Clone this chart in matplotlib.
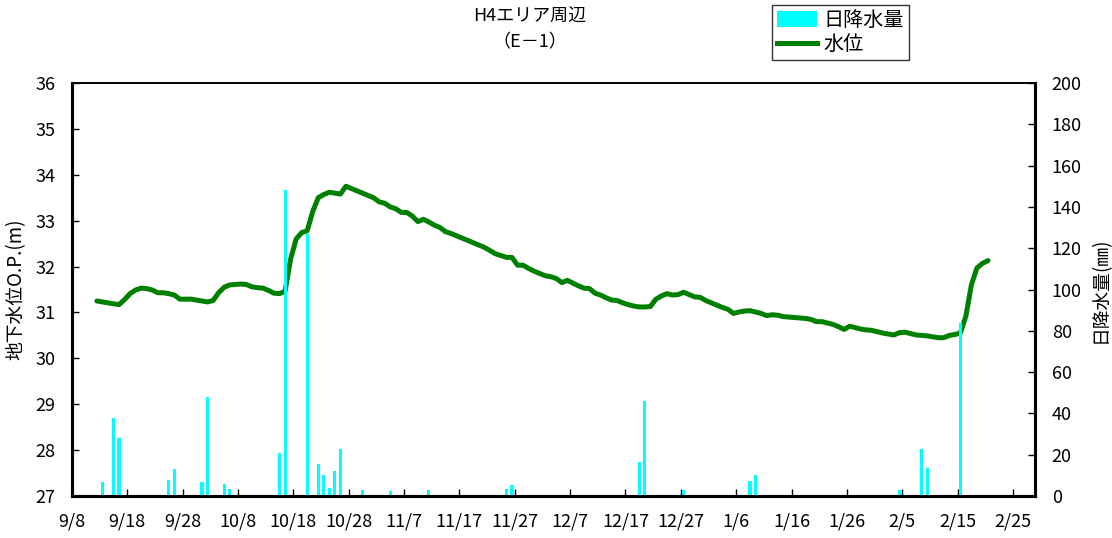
import numpy as np
import pandas as pd
import matplotlib
matplotlib.use("Agg")
import matplotlib.pyplot as plt
from matplotlib.patches import Patch
from matplotlib.lines import Line2D

plt.rcParams['font.family'] = ['Noto Sans CJK JP', 'DejaVu Sans']

# daily groundwater level (O.P. m), first value on level_start
level_start = "2013-09-12"
level_values = [
    31.25, 31.23, 31.21, 31.19, 31.17, 31.28, 31.41, 31.49, 31.53, 31.52,
    31.49, 31.43, 31.43, 31.41, 31.38, 31.29, 31.29, 31.29, 31.27, 31.25,
    31.23, 31.26, 31.43, 31.55, 31.60, 31.61, 31.62, 31.61, 31.56, 31.54,
    31.53, 31.48, 31.42, 31.41, 31.46, 32.16, 32.60, 32.74, 32.78, 33.20,
    33.50, 33.57, 33.62, 33.60, 33.58, 33.75, 33.70, 33.65, 33.60, 33.55,
    33.50, 33.41, 33.38, 33.30, 33.26, 33.18, 33.18, 33.10, 32.98, 33.03,
    32.97, 32.90, 32.85, 32.76, 32.72, 32.67, 32.62, 32.57, 32.52, 32.47,
    32.42, 32.35, 32.28, 32.24, 32.20, 32.20, 32.03, 32.03, 31.96, 31.90,
    31.85, 31.80, 31.78, 31.74, 31.65, 31.70, 31.64, 31.58, 31.53, 31.52,
    31.42, 31.38, 31.32, 31.27, 31.26, 31.21, 31.17, 31.14, 31.12, 31.12,
    31.13, 31.29, 31.36, 31.41, 31.38, 31.39, 31.44, 31.39, 31.34, 31.33,
    31.26, 31.21, 31.16, 31.11, 31.07, 30.98, 31.01, 31.03, 31.04, 31.01,
    30.98, 30.93, 30.95, 30.94, 30.91, 30.90, 30.89, 30.88, 30.87, 30.85,
    30.80, 30.80, 30.77, 30.74, 30.69, 30.63, 30.70, 30.67, 30.64, 30.62,
    30.61, 30.58, 30.55, 30.53, 30.51, 30.56, 30.57, 30.54, 30.51, 30.50,
    30.49, 30.47, 30.45, 30.45, 30.50, 30.52, 30.55, 30.92, 31.60, 31.97,
    32.07, 32.13,
]

# daily rainfall (mm)
rain_dates = [
    "2013-09-13", "2013-09-15", "2013-09-16", "2013-09-25", "2013-09-26",
    "2013-09-30", "2013-10-01", "2013-10-02", "2013-10-04", "2013-10-05",
    "2013-10-06", "2013-10-15", "2013-10-16", "2013-10-20", "2013-10-22",
    "2013-10-23", "2013-10-24", "2013-10-25", "2013-10-26", "2013-10-30",
    "2013-11-04", "2013-11-11", "2013-11-25", "2013-11-26", "2013-12-19",
    "2013-12-20", "2013-12-27", "2014-01-08", "2014-01-09", "2014-02-04",
    "2014-02-08", "2014-02-09", "2014-02-14", "2014-02-15",
]
rain_mm = [
    7, 38, 28, 8, 13,
    0.5, 7, 48, 0.5, 6,
    3.5, 21, 148, 127, 15.5,
    10, 4, 12, 23, 2.8,
    2.3, 2.8, 3.4, 5.3, 16.5,
    46, 2.8, 7.3, 10.2, 2.9,
    22.7, 13.6, 0.5, 84,
]

x_first = "2013-09-08"
x_last = "2014-03-01"
last_tick = "2014-02-25"
tick_step_days = 10

title_lines = ["H4エリア周辺", "（E－1）"]

# ---- build
half_day = pd.Timedelta(hours=12)
lvl_x = pd.date_range(level_start, periods=len(level_values), freq="D") + half_day
rain_x = pd.to_datetime(rain_dates) + half_day

fig = plt.figure(figsize=(11.12, 5.38), dpi=100)
ax = fig.add_axes([0.0647, 0.078, 0.8661, 0.7677])
ax2 = ax.twinx()

ax.plot(lvl_x, level_values, color="#008000", linewidth=3.6,
        solid_joinstyle="round", solid_capstyle="round")
ax2.bar(rain_x, rain_mm, width=0.55, color="#00FFFF", linewidth=0)

ax.set_ylim(27, 36)
ax.set_yticks(np.arange(27, 37, 1))
ax2.set_ylim(0, 200)
ax2.set_yticks(np.arange(0, 201, 20))

start = pd.Timestamp(x_first)
ax.set_xlim(start, pd.Timestamp(x_last))
ticks = pd.date_range(start, last_tick, freq=f"{tick_step_days}D")
ax.set_xticks(ticks)
ax.set_xticklabels([f"{t.month}/{t.day}" for t in ticks])

for a in (ax, ax2):
    a.tick_params(axis="both", direction="in", length=5, width=1, labelsize=13)
    for s in a.spines.values():
        s.set_linewidth(2.2)
    a.spines["top"].set_linewidth(1.2)
ax.tick_params(axis="x", pad=12)
ax.tick_params(axis="y", pad=12)
ax2.tick_params(axis="y", pad=12)

ax.set_ylabel("地下水位O.P.(m)", fontsize=13.5, labelpad=6)
ax2.set_ylabel("日降水量(㎜)", fontsize=13.5, labelpad=6)

fig.text(530 / 1112, 1 - 17 / 538, title_lines[0], ha="center", va="center", fontsize=13)
fig.text(530 / 1112, 1 - 42 / 538, title_lines[1], ha="center", va="center", fontsize=13)

handles = [Patch(facecolor="#00FFFF", edgecolor="none"),
           Line2D([0], [0], color="#008000", linewidth=3.6)]
leg = fig.legend(handles, ["日降水量", "水位"], loc="upper left",
                 bbox_to_anchor=(772 / 1112, 1 - 5 / 538), fontsize=14.5,
                 frameon=True, fancybox=False, borderaxespad=0, borderpad=0.25,
                 handlelength=2.0, handleheight=0.8, handletextpad=0.3,
                 labelspacing=0.15)
leg.get_frame().set_edgecolor("black")
leg.get_frame().set_linewidth(1)

fig.savefig("out.png", dpi=100)
